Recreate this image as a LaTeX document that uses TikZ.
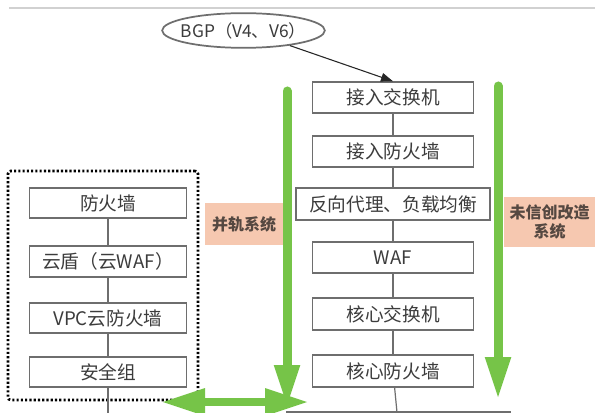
\documentclass[tikz,border=0pt]{standalone}
\usepackage{fontspec}
\setmainfont{Noto Sans CJK SC}
\usetikzlibrary{arrows.meta,shapes.geometric}
\definecolor{boxgray}{RGB}{110,110,110}
\definecolor{txt}{RGB}{60,60,60}
\definecolor{labtxt}{RGB}{85,72,65}
\definecolor{grn}{RGB}{118,196,72}
\definecolor{peach}{RGB}{246,200,176}
\begin{document}
\begin{tikzpicture}[x=0.75pt,y=-0.75pt,
  box/.style={draw=boxgray,line width=1.1pt,inner sep=0pt,minimum height=23.25pt,text=txt,font=\fontsize{14}{16}\selectfont},
  rbox/.style={box,minimum width=120.75pt},
  lbox/.style={box,minimum width=117.75pt,minimum height=22.5pt},
  conn/.style={draw=boxgray,line width=0.9pt},
  tag/.style={fill=peach,inner sep=0pt,text=labtxt,align=center,font=\fontsize{12}{14.25}\selectfont\bfseries},
  garrow/.style={draw=grn,line width=6.75pt,line cap=round,-{Triangle[length=30pt,width=20pt,line width=0pt]}},
  gdouble/.style={draw=grn,line width=6pt,{Triangle[length=31.5pt,width=21pt,line width=0pt]}-{Triangle[length=31.5pt,width=21pt,line width=0pt]}}
]
\useasboundingbox (0,0) rectangle (595,413);
\clip (0,0) rectangle (595,413);
\fill[white] (0,0) rectangle (595,413);
\draw[black!18,line width=1.2pt] (9,8) -- (595,8);

% top ellipse
\node[ellipse,draw=boxgray,line width=1.3pt,minimum width=122pt,minimum height=26pt,inner sep=0pt,
      label={[text=txt,font=\fontsize{13}{15}\selectfont]center:BGP（V4、V6）}] (bgp) at (243.5,30.5) {};

% right column
\node[rbox] (sw1) at (393,97.5) {接入交换机};
\node[rbox] (fw1) at (393,151.5) {接入防火墙};
\node[box,minimum width=145.5pt,minimum height=24pt] (proxy) at (393,204) {反向代理、负载均衡};
\node[rbox] (waf) at (393,257.5) {WAF};
\node[rbox,minimum height=24pt] (sw2) at (393,314) {核心交换机};
\node[rbox,minimum height=24pt] (fw2) at (393,371) {核心防火墙};
\node[box,minimum width=167.25pt,minimum height=24pt] (core) at (398.5,428) {};

\draw[conn] (sw1) -- (fw1);
\draw[conn] (fw1) -- (proxy);
\draw[conn] (proxy) -- (waf);
\draw[conn] (waf) -- (sw2);
\draw[conn] (sw2) -- (fw2);
\draw[conn] (fw2) -- (core);

\draw[black!85,line width=0.8pt,-{Triangle[length=9pt,width=6.5pt]}] (bgp.-18) -- (sw1.north);

% left group
\node[draw=black,line width=2pt,dash pattern=on 1.6pt off 1.6pt,rounded corners=2pt,
      minimum width=142.5pt,minimum height=171.75pt,inner sep=0pt] (grp) at (103,285.5) {};
\node[lbox] (lfw) at (108,203) {防火墙};
\node[lbox,minimum height=23.25pt] (yd) at (108,261.5) {云盾（云WAF）};
\node[lbox] (vpc) at (108,318) {VPC云防火墙};
\node[lbox] (sg) at (108,372) {安全组};
\coordinate (sgend) at (108,416);
\draw[conn] (lfw) -- (yd);
\draw[conn] (yd) -- (vpc);
\draw[conn] (vpc) -- (sg);
\draw[conn] (sg) -- (sgend);

% green arrows
\coordinate (lg0) at (287,91);
\coordinate (lg1) at (287,405);
\coordinate (rg0) at (498,86);
\coordinate (rg1) at (498,397);
\coordinate (hg0) at (163,402);
\coordinate (hg1) at (307,402);
\draw[garrow] (lg0) -- (lg1);
\draw[garrow] (rg0) -- (rg1);
\draw[gdouble] (hg0) -- (hg1);

% tags
\node[tag,minimum width=58.5pt,minimum height=31.5pt] (bg) at (244,224) {并轨系统};
\node[tag,minimum width=69pt,minimum height=37.5pt] (wx) at (549.5,222) {未信创改造\\系统};
\end{tikzpicture}
\end{document}
